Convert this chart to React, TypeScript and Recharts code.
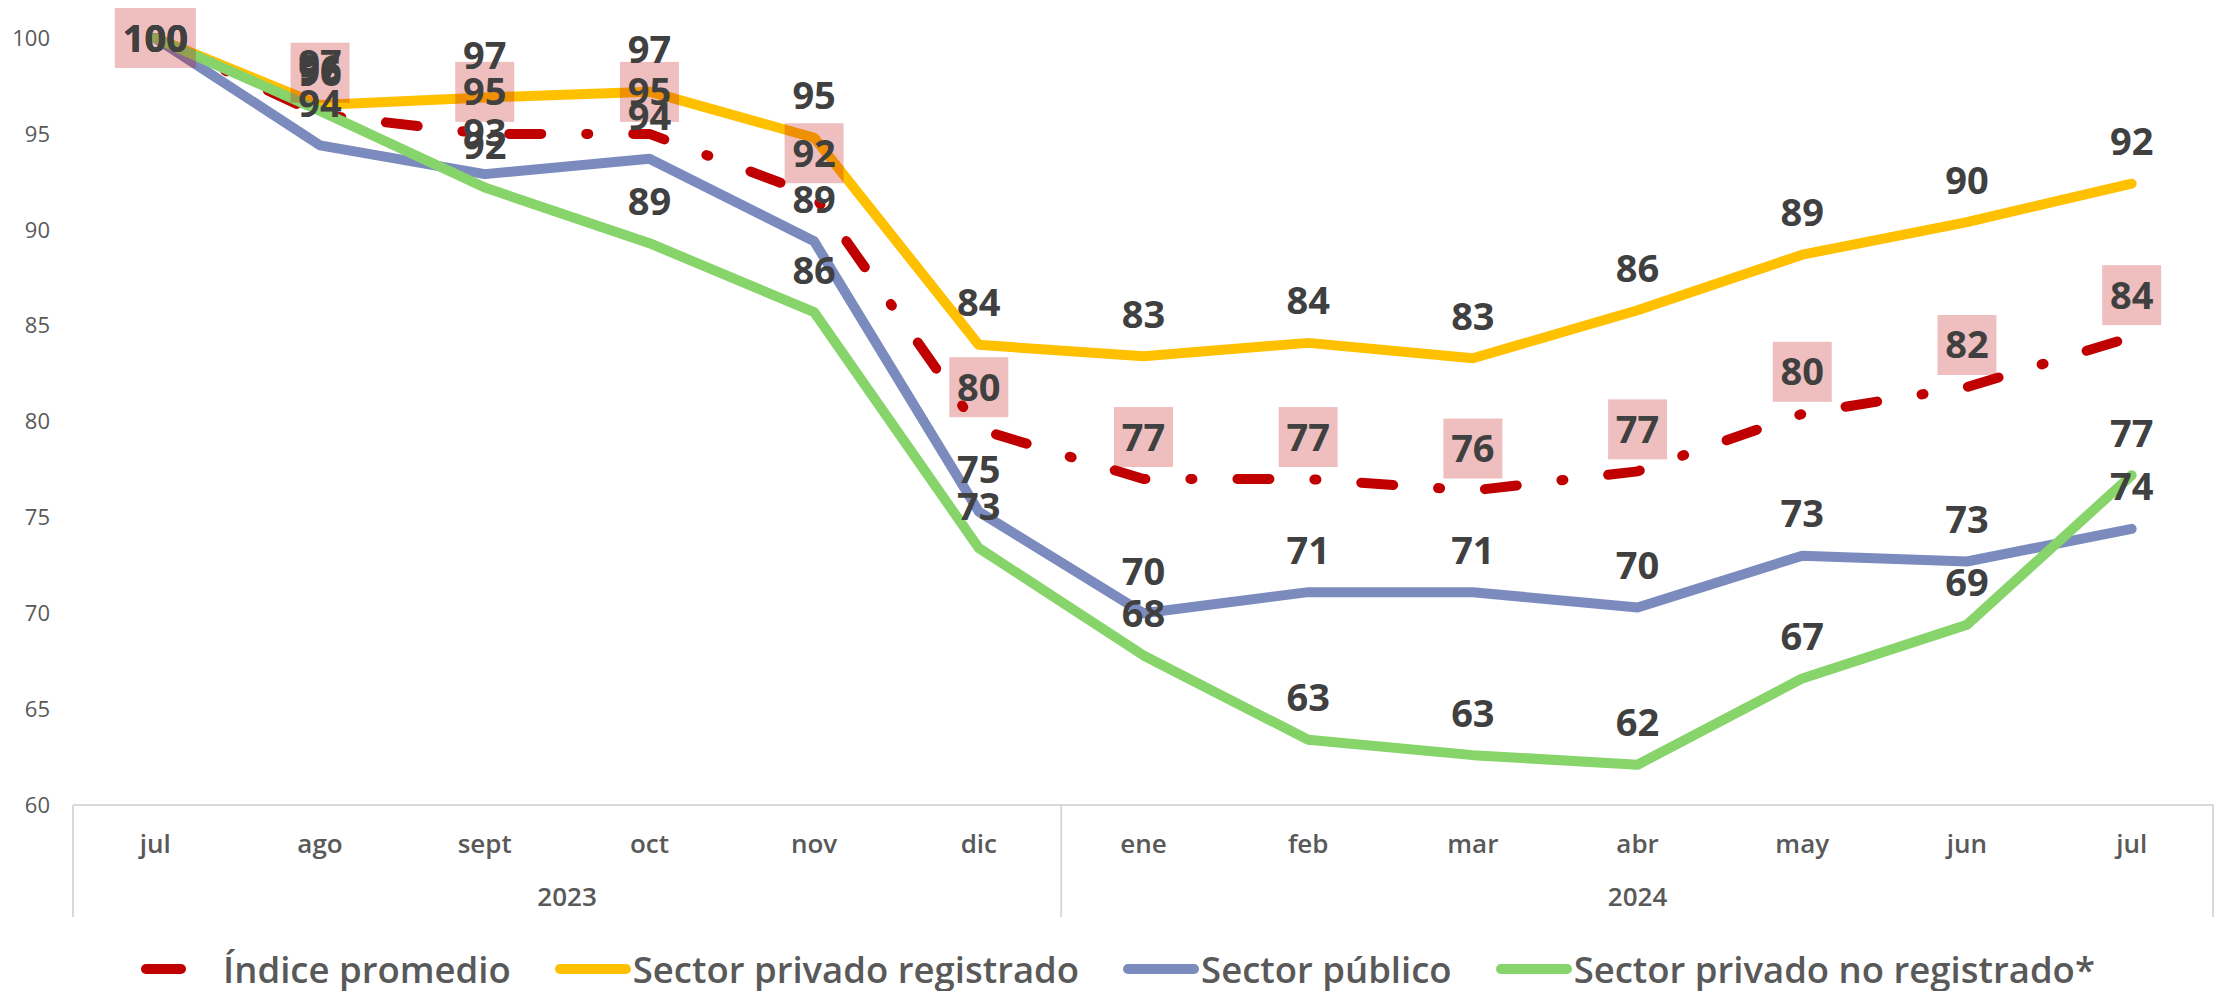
import React from 'react';
import { LineChart, Line, XAxis, YAxis, Legend, LabelList } from 'recharts';

const months = ['jul', 'ago', 'sept', 'oct', 'nov', 'dic', 'ene', 'feb', 'mar', 'abr', 'may', 'jun', 'jul'];
const years = ['2023', '2024'];
const yearStarts = [0, 6];
const yTicks = [60, 65, 70, 75, 80, 85, 90, 95, 100];

const indicePromedio = [100, 96.0, 95.0, 95.0, 91.8, 79.6, 77.0, 77.0, 76.4, 77.4, 80.4, 81.8, 84.4];
const privadoRegistrado = [100, 96.5, 96.9, 97.2, 94.8, 84.0, 83.4, 84.1, 83.3, 85.8, 88.7, 90.4, 92.4];
const sectorPublico = [100, 94.4, 92.9, 93.7, 89.4, 75.3, 70.0, 71.1, 71.1, 70.3, 73.0, 72.7, 74.4];
const privadoNoRegistrado = [100, 96.2, 92.2, 89.3, 85.7, 73.4, 67.8, 63.4, 62.6, 62.1, 66.6, 69.4, 77.2];

const data = months.map((m, i) => ({
  key: `${m}-${i}`,
  month: m,
  promedio: indicePromedio[i],
  registrado: privadoRegistrado[i],
  publico: sectorPublico[i],
  noRegistrado: privadoNoRegistrado[i],
}));

const FONT = '"Open Sans", "Liberation Sans", sans-serif';
const W = 2214;
const H = 991;
const Y_AXIS_W = 73;
const TOP = 38;
const STEP = (W - Y_AXIS_W) / months.length;
const RED_DASH = '32 45 2 45';

const series = [
  { key: 'promedio', name: 'Índice promedio', color: '#C00000', dash: RED_DASH, boxed: true },
  { key: 'registrado', name: 'Sector privado registrado', color: '#FFC000', dash: undefined, boxed: false },
  { key: 'publico', name: 'Sector público', color: '#7C8BBE', dash: undefined, boxed: false },
  { key: 'noRegistrado', name: 'Sector privado no registrado*', color: '#86D46A', dash: undefined, boxed: false },
];

const makeLabel = (boxed: boolean) => (props: any) => {
  const { x, y, value } = props;
  if (x == null || y == null) return null;
  const cy = Math.max(y - 42, TOP);
  const text = String(Math.round(value));
  const w = text.length * 22 + 15;
  return (
    <g>
      {boxed && <rect x={x - w / 2} y={cy - 30} width={w} height={60} fill="rgba(192,0,0,0.25)" />}
      <text x={x} y={cy + 13.5} textAnchor="middle" fill="#404040" fontFamily={FONT} fontSize={38} fontWeight={700}>
        {text}
      </text>
    </g>
  );
};

const MonthTick = (props: any) => {
  const { x, y, payload } = props;
  const idx = payload.index;
  const yi = yearStarts.indexOf(idx);
  const lineProps = { stroke: '#D9D9D9', strokeWidth: 2 };
  return (
    <g>
      <text x={x} y={y + 48} textAnchor="middle" fill="#595959" fontFamily={FONT} fontSize={26} fontWeight={600}>
        {payload.value}
      </text>
      {yi >= 0 && (
        <>
          <line x1={x - STEP / 2} x2={x - STEP / 2} y1={y} y2={y + 112} {...lineProps} />
          <text
            x={x - STEP / 2 + (STEP * (yi === 0 ? 6 : 7)) / 2}
            y={y + 101}
            textAnchor="middle"
            fill="#595959"
            fontFamily={FONT}
            fontSize={26}
            fontWeight={600}
          >
            {years[yi]}
          </text>
        </>
      )}
      {idx === months.length - 1 && <line x1={x + STEP / 2 - 1} x2={x + STEP / 2 - 1} y1={y} y2={y + 112} {...lineProps} />}
    </g>
  );
};

const renderLegend = () => (
  <div
    style={{
      display: 'flex',
      justifyContent: 'center',
      alignItems: 'center',
      height: 44,
      gap: 44,
      paddingLeft: 22,
      fontFamily: FONT,
      fontSize: 36.5,
      fontWeight: 600,
      color: '#595959',
      whiteSpace: 'nowrap',
    }}
  >
    {series.map((s) => (
      <div key={s.key} style={{ display: 'flex', alignItems: 'center' }}>
        <svg width={76} height={14} style={{ marginRight: s.boxed ? 6 : 2 }}>
          <line
            x1={5}
            y1={7}
            x2={71}
            y2={7}
            stroke={s.color}
            strokeWidth={10}
            strokeLinecap="round"
            strokeDasharray={s.boxed ? '35 200' : undefined}
          />
        </svg>
        <span>{s.name}</span>
      </div>
    ))}
  </div>
);

export default function App() {
  return (
    <div style={{ position: 'absolute', left: 0, top: 0, width: W, height: H, background: '#fff' }}>
      <LineChart width={W} height={H} data={data} margin={{ top: TOP, right: 0, bottom: 0, left: 0 }}>
        <XAxis
          dataKey="month"
          interval={0}
          height={142}
          padding={{ left: STEP / 2, right: STEP / 2 }}
          axisLine={{ stroke: '#D9D9D9', strokeWidth: 2 }}
          tickLine={false}
          tickSize={0}
          tickMargin={0}
          tick={<MonthTick />}
        />
        <YAxis
          domain={[60, 100]}
          ticks={yTicks}
          width={Y_AXIS_W}
          axisLine={false}
          tickLine={false}
          tickSize={0}
          tickMargin={23}
          tick={{ fill: '#595959', fontSize: 22, fontFamily: FONT }}
        />
        <Legend verticalAlign="bottom" content={renderLegend} wrapperStyle={{ height: 44 }} />
        {series.map((s) => (
          <Line
            key={s.key}
            type="linear"
            dataKey={s.key}
            name={s.name}
            stroke={s.color}
            strokeWidth={10}
            strokeDasharray={s.dash}
            strokeLinecap="round"
            strokeLinejoin="round"
            dot={false}
            activeDot={false}
            isAnimationActive={false}
          >
            <LabelList dataKey={s.key} content={makeLabel(s.boxed)} />
          </Line>
        ))}
      </LineChart>
    </div>
  );
}
